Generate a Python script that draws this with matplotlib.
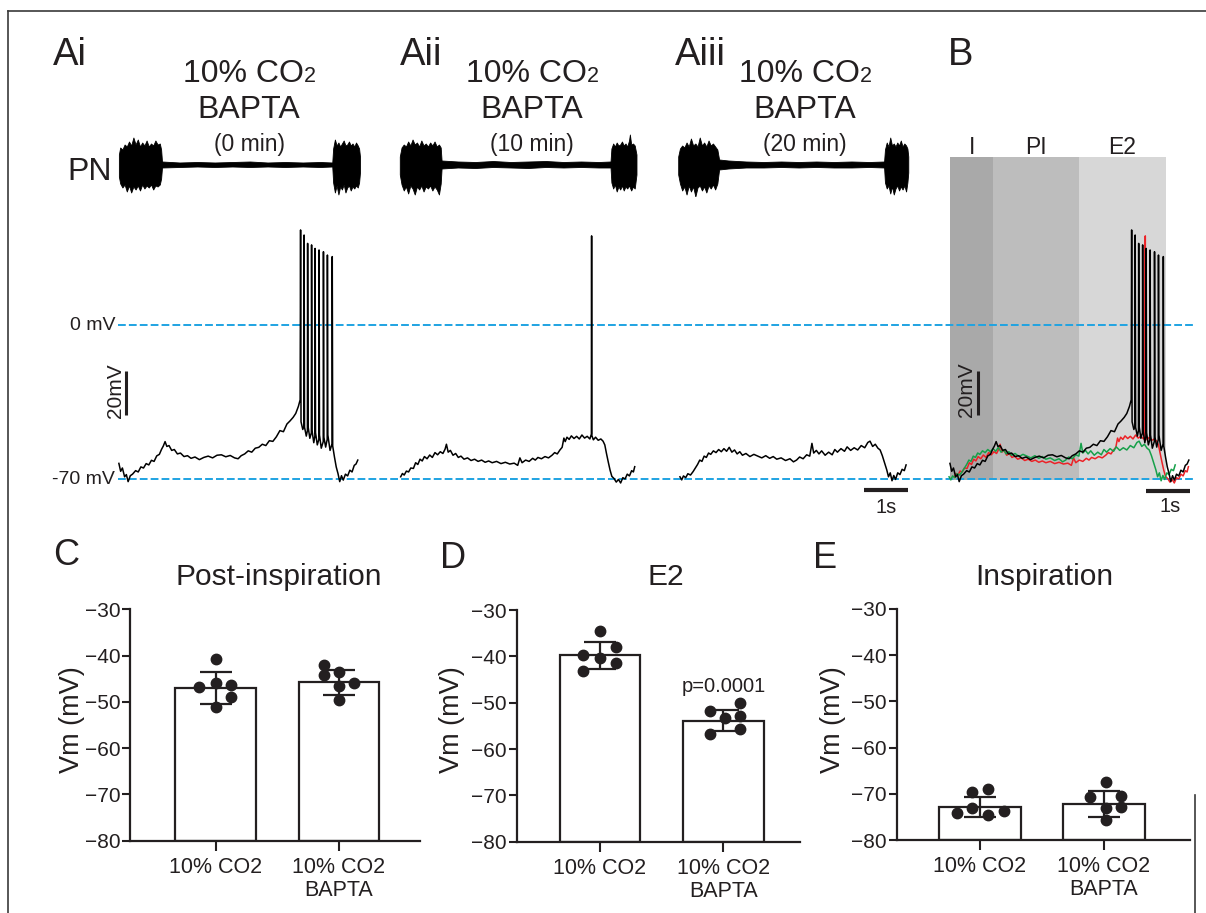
import matplotlib.pyplot as plt
import numpy as np

plt.rcParams['font.family'] = ['Liberation Sans', 'DejaVu Sans']

INK = '#231f20'
BLUE = '#1fa3e2'
W, H = 1206, 913

# ---------------- membrane potential traces: (time s, Vm mV) ----------------
ai_trace = [
    (0.02, -62.9), (0.06, -66.5), (0.10, -65.0), (0.15, -69.0), (0.19, -68.0), (0.23, -71.2),
    (0.28, -68.5), (0.33, -67.8), (0.40, -66.2), (0.46, -66.8), (0.52, -64.5), (0.58, -65.0),
    (0.64, -63.0), (0.70, -63.6), (0.76, -61.5), (0.82, -62.0), (0.88, -59.5), (0.94, -58.8),
    (0.99, -56.5), (1.03, -55.0), (1.07, -53.0), (1.11, -55.2), (1.16, -54.8), (1.22, -57.0),
    (1.28, -56.6), (1.35, -58.6), (1.42, -58.2), (1.50, -59.8), (1.58, -59.4), (1.66, -60.6),
    (1.75, -60.0), (1.85, -61.2), (1.95, -60.2), (2.05, -59.6), (2.15, -60.4), (2.25, -59.2),
    (2.35, -59.0), (2.45, -59.9), (2.55, -59.3), (2.65, -60.4), (2.73, -60.8), (2.80, -59.4),
    (2.88, -58.6), (2.96, -57.2), (3.04, -57.8), (3.12, -56.0), (3.20, -55.6), (3.28, -54.2),
    (3.36, -54.8), (3.44, -52.6), (3.52, -52.9), (3.60, -50.8), (3.68, -48.0), (3.76, -48.5),
    (3.84, -45.0), (3.91, -43.6), (3.98, -42.0), (4.04, -40.2), (4.10, -37.0), (4.14, -34.0),
    (4.15, 43.2), (4.16, -44.0), (4.20, -47.5), (4.225, -46.0), (4.23, 40.9), (4.24, -46.5),
    (4.28, -50.5), (4.305, -48.0), (4.31, 37.1), (4.32, -46.0), (4.36, -51.5), (4.395, -49.0),
    (4.40, 36.4), (4.41, -48.0), (4.45, -53.5), (4.475, -50.5), (4.48, 34.8), (4.49, -49.0),
    (4.53, -54.5), (4.565, -52.0), (4.57, 34.1), (4.58, -50.0), (4.62, -56.0), (4.665, -53.0),
    (4.67, 33.3), (4.68, -51.0), (4.72, -55.5), (4.755, -52.0), (4.76, 31.8), (4.77, -50.0),
    (4.82, -57.0), (4.865, -54.0), (4.87, 31.1), (4.88, -55.0), (4.92, -60.0), (4.96, -64.5),
    (5.00, -67.5), (5.04, -71.2), (5.08, -68.5), (5.12, -70.5), (5.17, -67.8), (5.22, -68.6),
    (5.27, -66.0), (5.32, -66.8), (5.37, -63.8), (5.41, -63.2), (5.45, -61.4),
]

aii_trace = [
    (0.00, -69.0), (0.04, -67.5), (0.08, -68.2), (0.13, -66.4), (0.18, -66.8), (0.23, -65.0),
    (0.29, -65.2), (0.34, -62.6), (0.39, -63.4), (0.44, -61.0), (0.49, -61.8), (0.54, -59.8),
    (0.60, -60.8), (0.66, -59.1), (0.72, -60.2), (0.78, -58.0), (0.84, -59.0), (0.90, -57.6),
    (0.96, -58.4), (1.01, -56.4), (1.04, -54.2), (1.08, -57.8), (1.13, -57.0), (1.19, -59.2),
    (1.25, -58.4), (1.31, -60.2), (1.37, -59.6), (1.44, -61.0), (1.52, -60.4), (1.60, -61.6),
    (1.68, -61.0), (1.76, -62.0), (1.84, -61.4), (1.92, -62.4), (2.00, -61.8), (2.08, -62.6),
    (2.18, -62.0), (2.28, -63.0), (2.38, -62.4), (2.48, -63.2), (2.58, -62.8), (2.66, -63.8),
    (2.71, -60.4), (2.76, -62.6), (2.84, -61.4), (2.92, -62.0), (3.00, -60.6), (3.06, -61.4),
    (3.12, -60.2), (3.20, -60.8), (3.28, -59.8), (3.36, -60.4), (3.44, -59.2), (3.50, -58.0),
    (3.56, -58.6), (3.62, -56.8), (3.67, -55.6), (3.71, -51.4), (3.74, -53.0), (3.78, -51.0),
    (3.83, -52.0), (3.88, -50.4), (3.94, -51.6), (4.00, -50.6), (4.06, -51.8), (4.12, -50.0),
    (4.18, -51.4), (4.24, -50.6), (4.30, -51.8), (4.335, -49.6), (4.34, 40.5), (4.345, -50.2),
    (4.38, -52.2), (4.43, -51.0), (4.49, -52.4), (4.55, -51.8), (4.60, -52.8), (4.64, -54.5),
    (4.68, -58.6), (4.72, -62.4), (4.76, -66.0), (4.80, -68.8), (4.85, -69.8), (4.90, -71.4),
    (4.95, -70.2), (5.00, -71.8), (5.05, -69.4), (5.10, -70.0), (5.15, -67.8), (5.20, -68.6),
    (5.25, -66.2), (5.29, -66.8), (5.32, -64.4),
]

aiii_trace = [
    (0.00, -69.0), (0.04, -70.4), (0.08, -68.6), (0.13, -69.4), (0.18, -67.6), (0.24, -68.2),
    (0.30, -66.6), (0.35, -65.0), (0.40, -63.4), (0.45, -61.4), (0.50, -62.0), (0.55, -59.6),
    (0.60, -60.2), (0.65, -58.2), (0.70, -58.8), (0.76, -57.2), (0.82, -58.0), (0.88, -56.6),
    (0.94, -57.6), (1.00, -56.2), (1.06, -57.4), (1.12, -55.6), (1.18, -57.8), (1.24, -56.8),
    (1.30, -58.6), (1.36, -57.6), (1.42, -59.2), (1.50, -58.4), (1.59, -59.8), (1.68, -58.8),
    (1.77, -59.6), (1.86, -60.4), (1.95, -59.4), (2.04, -60.6), (2.12, -59.8), (2.20, -61.0),
    (2.30, -60.4), (2.40, -61.6), (2.50, -60.8), (2.58, -62.2), (2.65, -61.4), (2.72, -60.0),
    (2.80, -60.8), (2.88, -59.0), (2.95, -59.6), (3.00, -53.8), (3.04, -58.2), (3.10, -57.0),
    (3.16, -58.6), (3.22, -57.2), (3.30, -59.2), (3.38, -57.8), (3.46, -59.0), (3.52, -56.6),
    (3.58, -57.8), (3.66, -56.2), (3.74, -57.4), (3.80, -55.4), (3.88, -57.0), (3.96, -55.8),
    (4.04, -56.8), (4.12, -54.8), (4.20, -55.8), (4.27, -53.4), (4.32, -52.8), (4.38, -55.2),
    (4.44, -54.2), (4.50, -56.0), (4.55, -56.8), (4.60, -59.4), (4.65, -62.6), (4.70, -65.8),
    (4.74, -69.0), (4.78, -67.2), (4.82, -70.8), (4.86, -68.4), (4.90, -70.2), (4.95, -67.2),
    (5.00, -68.0), (5.05, -65.6), (5.10, -66.2), (5.14, -63.6),
]

# ---------------- phrenic nerve (PN) envelope: (time s, upper, lower) a.u. ----------------
pn_ai = [
    (0.02, 10, -12), (0.05, 17, -19), (0.10, 15, -23), (0.15, 20, -20), (0.20, 18, -27),
    (0.25, 23, -21), (0.30, 19, -28), (0.35, 27, -22), (0.40, 20, -25), (0.45, 25, -21),
    (0.50, 18, -26), (0.55, 22, -20), (0.60, 19, -24), (0.65, 24, -21), (0.70, 18, -23),
    (0.75, 21, -20), (0.80, 19, -25), (0.85, 24, -21), (0.90, 20, -22), (0.95, 21, -20),
    (0.98, 15, -14), (1.00, 3, -3), (1.40, 2, -2.5), (1.80, 2.5, -2), (2.20, 2, -2.5),
    (2.60, 2.5, -2), (3.00, 3, -2.5), (3.40, 2, -2), (3.80, 2.5, -2.5), (4.20, 2, -2),
    (4.60, 2.5, -2.5), (4.87, 2, -2), (4.89, 16, -18), (4.93, 25, -28), (4.97, 19, -21),
    (5.01, 22, -30), (5.05, 18, -22), (5.09, 21, -25), (5.13, 24, -20), (5.17, 19, -28),
    (5.21, 20, -23), (5.25, 23, -21), (5.29, 19, -26), (5.33, 21, -22), (5.37, 18, -24),
    (5.41, 22, -21), (5.45, 19, -23), (5.48, 16, -18), (5.50, 8, -8),
]
pn_aii = [
    (-0.02, 8, -10), (0.02, 17, -20), (0.07, 20, -26), (0.12, 18, -22), (0.17, 23, -29),
    (0.22, 19, -21), (0.27, 25, -24), (0.32, 20, -30), (0.37, 22, -22), (0.42, 18, -25),
    (0.47, 24, -21), (0.52, 19, -27), (0.57, 21, -22), (0.62, 18, -24), (0.67, 22, -21),
    (0.72, 19, -26), (0.77, 23, -22), (0.82, 18, -25), (0.87, 20, -30), (0.91, 17, -19),
    (0.93, 4, -4), (1.30, 3, -3), (1.70, 2.5, -3.5), (2.10, 3.5, -2.5), (2.50, 2.5, -3),
    (2.90, 3, -3.5), (3.30, 3.5, -2.5), (3.70, 2.5, -3), (4.10, 3, -2.5), (4.50, 2.5, -3),
    (4.77, 3, -3), (4.79, 16, -18), (4.83, 21, -24), (4.87, 18, -20), (4.91, 22, -27),
    (4.95, 19, -22), (4.99, 20, -25), (5.03, 23, -21), (5.07, 19, -26), (5.11, 21, -22),
    (5.15, 18, -24), (5.19, 24, -21), (5.21, 30, -23), (5.24, 20, -26), (5.28, 21, -22),
    (5.32, 19, -24), (5.36, 10, -10),
]
pn_aiii = [
    (-0.04, 8, -10), (0.00, 16, -19), (0.05, 19, -26), (0.10, 17, -22), (0.15, 22, -30),
    (0.20, 18, -21), (0.25, 26, -27), (0.30, 19, -22), (0.35, 21, -32), (0.40, 18, -23),
    (0.45, 27, -21), (0.50, 19, -26), (0.55, 22, -22), (0.60, 18, -28), (0.65, 24, -21),
    (0.70, 19, -24), (0.75, 21, -20), (0.80, 18, -25), (0.85, 15, -19), (0.89, 5, -5),
    (1.10, 4, -4), (1.50, 3, -3), (1.90, 2.5, -3), (2.30, 3, -2.5), (2.70, 2.5, -3),
    (3.10, 3, -2.5), (3.50, 2.5, -3), (3.90, 3, -3), (4.30, 2.5, -2.5), (4.64, 3, -3),
    (4.66, 15, -18), (4.70, 22, -24), (4.74, 18, -21), (4.78, 27, -29), (4.82, 19, -22),
    (4.86, 21, -30), (4.90, 18, -24), (4.94, 22, -21), (4.98, 19, -26), (5.02, 24, -22),
    (5.06, 18, -25), (5.10, 21, -21), (5.14, 19, -27), (5.17, 16, -18), (5.19, 8, -8),
]

# sweep onsets on the shared time axis (s)
sweep_start = [0.0, 6.425, 12.773]
b_start = 18.89
red_shift = 0.12

# respiratory phases of panel B (s from sweep onset)
phase_edges = [0.02, 1.005, 2.95, 4.92]
phase_names = ['I', 'PI', 'E2']
phase_colors = ['#a9a9a9', '#bdbdbd', '#d7d7d7']

# ---------------- group data (mV) ----------------
groups = ['10% CO2', '10% CO2\nBAPTA']

pi_mean = [-47.0, -45.8]
pi_sd = [3.4, 2.7]
pi_ctrl = [-40.8, -46.7, -45.9, -46.4, -48.9, -51.2]
pi_bapta = [-42.0, -44.3, -43.5, -45.9, -46.6, -49.7]
pi_ctrl_dx = [0, -0.133, 0, 0.122, 0.122, 0]
pi_bapta_dx = [-0.122, -0.122, 0, 0.122, 0, 0]

e2_mean = [-39.8, -53.9]
e2_sd = [2.85, 2.25]
e2_ctrl = [-34.5, -37.9, -39.7, -40.4, -41.5, -43.1]
e2_bapta = [-50.1, -51.9, -53.2, -52.9, -55.7, -56.8]
e2_ctrl_dx = [0, 0.13, -0.135, 0, 0.13, -0.135]
e2_bapta_dx = [0.135, -0.11, 0.01, 0.135, 0.135, -0.11]

insp_mean = [-72.8, -72.2]
insp_sd = [2.15, 2.85]
insp_ctrl = [-74.2, -73.0, -69.7, -69.0, -74.6, -73.7]
insp_bapta = [-67.4, -70.8, -70.4, -73.0, -72.8, -75.7]
insp_ctrl_dx = [-0.188, -0.067, -0.067, 0.067, 0.067, 0.194]
insp_bapta_dx = [0.013, -0.113, 0.135, 0.013, 0.135, 0.013]

fig = plt.figure(figsize=(W / 100, H / 100), dpi=100)


def px_axes(x0, y0, x1, y1):
    return fig.add_axes([x0 / W, 1 - y1 / H, (x1 - x0) / W, (y1 - y0) / H])


# ---------------- traces ----------------
tr = px_axes(118, 149, 1195, 512)
tr.set_xlim(0, 24.48)
tr.set_ylim(-85, 80)
tr.axis('off')

for e0, e1, c in zip(phase_edges[:-1], phase_edges[1:], phase_colors):
    tr.fill_between([b_start + e0, b_start + e1], -70.5, 76.5, color=c, lw=0, zorder=0)

for level in (0, -70):
    tr.axhline(level, color=BLUE, lw=1.4, dashes=(4, 1.6), zorder=1)

ai = np.array(ai_trace)
aii = np.array(aii_trace)
aiii = np.array(aiii_trace)
for arr, t0 in zip((ai, aii, aiii), sweep_start):
    tr.plot(arr[:, 0] + t0, arr[:, 1], color='black', lw=1.1, zorder=3)

# overlay in B
tr.plot(aii[:, 0] + b_start + red_shift, aii[:, 1], color='#ec2227', lw=1.1, zorder=3)
tr.plot(aiii[:, 0] + b_start, aiii[:, 1], color='#16a04a', lw=1.1, zorder=4)
tr.plot(ai[:, 0] + b_start, ai[:, 1], color='black', lw=1.1, zorder=5)

# scale bars
tr.plot([0.18, 0.18], [-41, -21], color=INK, lw=2.2, solid_capstyle='butt')
tr.plot([b_start + 0.66] * 2, [-41, -21], color=INK, lw=2.2, solid_capstyle='butt', zorder=6)
tr.plot([16.95, 17.95], [-75, -75], color=INK, lw=3, solid_capstyle='butt')
tr.plot([23.36, 24.36], [-75.5, -75.5], color=INK, lw=3, solid_capstyle='butt')

# ---------------- PN ----------------
pn = px_axes(118, 132.5, 1195, 196.5)
pn.set_xlim(0, 24.48)
pn.set_ylim(-32, 32)
pn.axis('off')
for env, t0 in zip((pn_ai, pn_aii, pn_aiii), sweep_start):
    e = np.array(env, dtype=float)
    pn.fill_between(e[:, 0] + t0, e[:, 2], e[:, 1], facecolor='black', edgecolor='black', lw=0.6)


# ---------------- bar panels ----------------
def bar_panel(rect, xlim, means, sds, ctrl, bapta, ctrl_dx, bapta_dx):
    ax = px_axes(*rect)
    x = np.arange(2)
    ax.bar(x, np.array(means) + 80, bottom=-80, width=0.655, color='white',
           edgecolor=INK, lw=1.6, zorder=2)
    ax.errorbar(x, means, yerr=sds, fmt='none', ecolor=INK, elinewidth=1.6,
                capsize=11.5, capthick=1.6, zorder=3)
    for xi, vals, dx in ((0, ctrl, ctrl_dx), (1, bapta, bapta_dx)):
        ax.plot(xi + np.array(dx), vals, 'o', color=INK, ms=7.5, zorder=4, clip_on=False)
    ax.set_xlim(xlim)
    ax.set_ylim(-80, -30)
    ax.set_yticks(np.arange(-80, -29, 10))
    ax.set_xticks(x)
    ax.set_xticklabels(groups, fontsize=15.5, color=INK, linespacing=1.15)
    ax.tick_params(axis='y', labelsize=15, length=5.5, width=1.5, pad=1.5, colors=INK)
    ax.tick_params(axis='x', length=7, width=1.5, pad=4.5, colors=INK)
    for s in ('top', 'right'):
        ax.spines[s].set_visible(False)
    for s in ('left', 'bottom'):
        ax.spines[s].set_linewidth(1.6)
        ax.spines[s].set_color(INK)
    return ax


bar_panel((130, 609.3, 420, 840.7), (-0.695, 1.657), pi_mean, pi_sd,
          pi_ctrl, pi_bapta, pi_ctrl_dx, pi_bapta_dx)
bar_panel((516.7, 610, 800, 841.7), (-0.676, 1.622), e2_mean, e2_sd,
          e2_ctrl, e2_bapta, e2_ctrl_dx, e2_bapta_dx)
bar_panel((896.7, 609, 1190, 840), (-0.672, 1.694), insp_mean, insp_sd,
          insp_ctrl, insp_bapta, insp_ctrl_dx, insp_bapta_dx)

# ---------------- overlay: frame and text (pixel coordinates) ----------------
ov = fig.add_axes([0, 0, 1, 1])
ov.set_xlim(0, W)
ov.set_ylim(H, 0)
ov.axis('off')

ov.plot([8, 8], [11, H], color='#3a3a3a', lw=1.2)
ov.plot([8, W], [11, 11], color='#3a3a3a', lw=1.2)
ov.plot([1195, 1195], [795, H], color='#3a3a3a', lw=1.2)


def txt(x, y, s, size, ha='center', va='baseline', **kw):
    return ov.text(x, y, s, fontsize=size, ha=ha, va=va, color=INK, **kw)


for x, s in ((53, 'Ai'), (400, 'Aii'), (675, 'Aiii'), (948, 'B')):
    txt(x, 65, s, 27.5, ha='left')

renderer = fig.canvas.get_renderer()
for cx, label in zip((249, 532, 805), ('(0 min)', '(10 min)', '(20 min)')):
    a = txt(0, 81.7, '10% CO', 23, ha='left')
    b = txt(0, 81.7, '2', 15.5, ha='left')
    w1 = a.get_window_extent(renderer).width
    w2 = b.get_window_extent(renderer).width
    a.set_x(cx - (w1 + w2) / 2)
    b.set_x(cx - (w1 + w2) / 2 + w1)
    txt(cx, 118, 'BAPTA', 23)
    txt(cx, 151, label, 16.5)

txt(112, 180, 'PN', 23, ha='right')
txt(115, 330, '0 mV', 14, ha='right')
txt(115, 484, '-70 mV', 14, ha='right')
txt(116, 391, '20mV', 15, va='center', rotation=90)
txt(966.5, 390, '20mV', 15, va='center', rotation=90)
txt(886, 513, '1s', 14.5)
txt(1170, 512, '1s', 14.5)

for e0, e1, name in zip(phase_edges[:-1], phase_edges[1:], phase_names):
    cx = 118 + (b_start + (e0 + e1) / 2) * 44
    txt(cx, 154, name, 16.5)

for x, y, s in ((53, 565, 'C'), (440, 568, 'D'), (813, 568, 'E')):
    txt(x, y, s, 26, ha='left')
for x, s in ((279, 'Post-inspiration'), (666, 'E2'), (1044, 'Inspiration')):
    txt(x, 585, s, 21.5)
for x in (71.7, 451.7, 833):
    txt(x, 720, 'Vm (mV)', 19.5, va='center', rotation=90)
txt(724, 691.7, 'p=0.0001', 14.5)

fig.savefig('out.png', dpi=100)
